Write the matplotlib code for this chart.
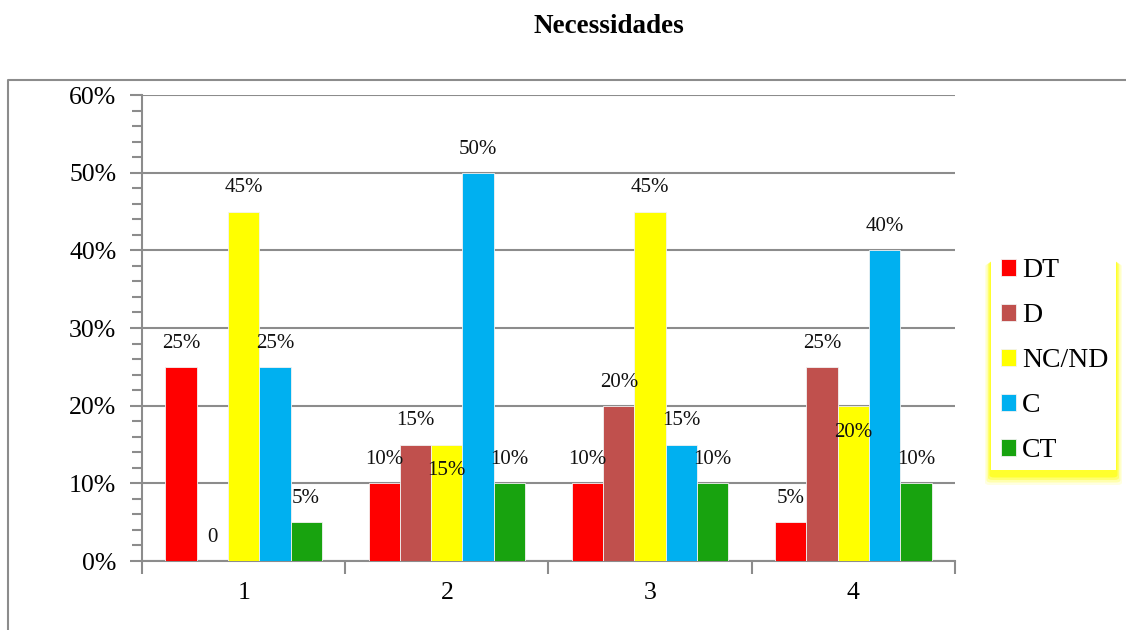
import matplotlib
matplotlib.use("Agg")
import matplotlib.pyplot as plt
import numpy as np
from matplotlib.lines import Line2D
from matplotlib.patches import Rectangle, FancyBboxPatch
from matplotlib.ticker import FixedLocator, MultipleLocator, FuncFormatter

plt.rcParams["font.family"] = ["Liberation Serif", "DejaVu Serif"]

# Survey answers per question (percent)
questions = ["1", "2", "3", "4"]
series_names = ["DT", "D", "NC/ND", "C", "CT"]
dt = [25, 10, 10, 5]
d = [0, 15, 20, 25]
nc_nd = [45, 15, 45, 20]
c = [25, 50, 15, 40]
ct = [5, 10, 10, 10]
series_values = [dt, d, nc_nd, c, ct]

colors = ["#FF0000", "#C0504D", "#FFFF00", "#00B0F0", "#18A30F"]
# labels that sit inside the bar instead of above it: (series, question)
labels_below = {(2, 1), (2, 3)}

grid_gray = "#8C8C8C"

fig = plt.figure(figsize=(11.26, 6.3), dpi=100)
ax = fig.add_axes([0.1261, 0.1095, 0.7220, 0.7397])

x = np.arange(len(questions))
width = 1 / 6.5

for i, (name, vals) in enumerate(zip(series_names, series_values)):
    pos = x + (i - 2) * width
    ax.bar(pos, vals, width, color=colors[i], edgecolor="#F2F2F2",
           linewidth=0.6, label=name, zorder=3)
    for j, v in enumerate(vals):
        txt = f"{v}%" if v else "0"
        dy = -19 if (i, j) in labels_below else 17
        ax.annotate(txt, (pos[j], v), xytext=(0, dy), textcoords="offset points",
                    ha="center", va="center", fontsize=15, color="#111111",
                    zorder=5)

# y axis: percent scale with minor ticks every 2%
ax.set_ylim(0, 60)
ax.yaxis.set_major_locator(MultipleLocator(10))
ax.yaxis.set_minor_locator(MultipleLocator(2))
ax.yaxis.set_major_formatter(FuncFormatter(lambda v, p: f"{v:.0f}%"))
ax.tick_params(axis="y", which="major", length=9, width=1.5, color=grid_gray,
               labelsize=18.5, pad=9.5)
ax.tick_params(axis="y", which="minor", length=7, width=1.5, color=grid_gray)
ax.yaxis.grid(True, which="major", color=grid_gray, linewidth=1.5, zorder=0)
ax.set_axisbelow(True)

# x axis: ticks between categories, labels centred under each group
ax.set_xlim(-0.5, len(questions) - 0.5)
ax.xaxis.set_major_locator(FixedLocator(np.arange(len(questions) + 1) - 0.5))
ax.xaxis.set_major_formatter(FuncFormatter(lambda v, p: ""))
ax.xaxis.set_minor_locator(FixedLocator(x))
ax.set_xticks(x, questions, minor=True)
ax.tick_params(axis="x", which="major", length=9, width=1.5, color=grid_gray)
ax.tick_params(axis="x", which="minor", length=0, labelsize=18.5, pad=15)

for side in ["top", "right"]:
    ax.spines[side].set_visible(False)
for side in ["left", "bottom"]:
    ax.spines[side].set_color(grid_gray)
    ax.spines[side].set_linewidth(1.5)

fig.text(0.541, 0.958, "Necessidades", ha="center", va="center",
         fontsize=19.5, fontweight="bold")

# chart area border (left and top edges)
W, H = 1126, 630
fig.add_artist(Line2D([8 / W, 8 / W, 1.0], [0.0, 1 - 80 / H, 1 - 80 / H],
                      transform=fig.transFigure, color=grid_gray, linewidth=1.5))

# legend box with a yellow glow, heavier along the bottom edge
bx0, bx1, by_top, by_bot = 991, 1116, 251, 470
for k, a in enumerate([0.12, 0.22, 0.35, 0.6]):
    grow = (4 - k) * 1.5
    fig.add_artist(FancyBboxPatch(
        ((bx0 - grow) / W, 1 - (by_bot + 9 + grow - k) / H),
        (bx1 - bx0 + 2 * grow) / W, (by_bot - by_top - 4 + grow) / H,
        boxstyle="round,pad=0,rounding_size=0.004",
        transform=fig.transFigure, facecolor="#FFFF00", edgecolor="none",
        alpha=a))
fig.add_artist(Rectangle((bx0 / W, 1 - by_bot / H), (bx1 - bx0) / W,
                         (by_bot - by_top) / H, transform=fig.transFigure,
                         facecolor="white", edgecolor="none"))

handles, lbls = ax.get_legend_handles_labels()
fig.legend(handles, lbls, loc="upper left", bbox_to_anchor=(1001 / W, 1 - 258 / H),
           frameon=False, fontsize=20, handlelength=0.55, handleheight=0.55,
           handletextpad=0.2, labelspacing=0.72, borderaxespad=0,
           borderpad=0)

fig.savefig("out.png", dpi=100)
